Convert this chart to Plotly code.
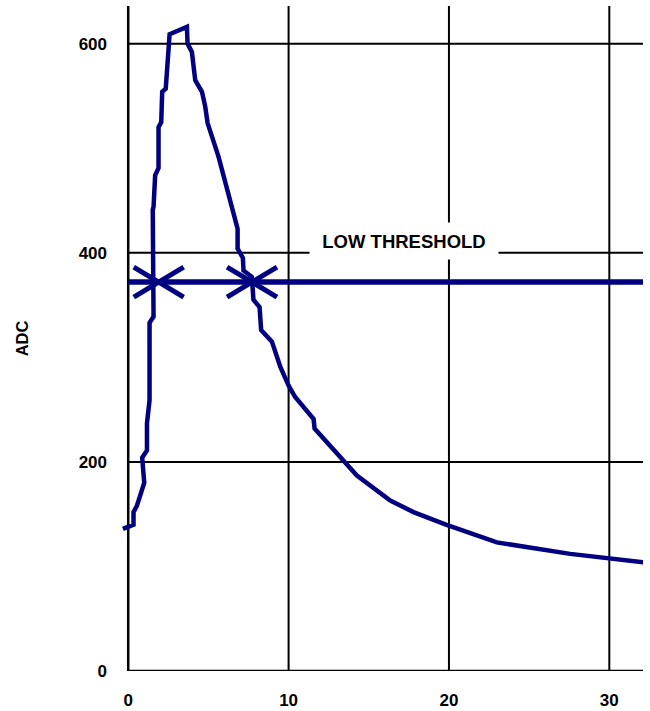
import plotly.graph_objects as go

# ---- data ----
time_ns = [-0.33, 0.33, 0.33, 0.54, 0.75, 1.0, 0.87, 1.17, 1.17, 1.33, 1.33, 1.58, 1.53, 1.58,
           1.68, 1.89, 1.89, 2.06, 2.12, 2.34, 2.58, 3.66, 3.70, 3.97, 4.18, 4.6, 4.8, 4.95,
           5.63, 6.82, 6.82, 7.15, 7.19, 7.71, 7.81, 8.19, 8.29, 8.96, 9.48, 10.0, 10.41,
           11.56, 11.62, 13.64, 14.26, 16.34, 17.79, 19.81, 22.99, 27.56, 29.95, 32.14]
adc = [136, 140, 152, 158, 168, 180, 204, 211, 237, 259, 333, 339, 441, 444,
       474, 481, 520, 525, 554, 557, 609, 616, 600, 592, 565, 554, 540, 524,
       492, 423, 404, 395, 383, 377, 355, 348, 326, 315, 291, 273, 262,
       241, 232, 197, 187, 163, 152, 140, 123, 112, 108, 104]

threshold = 372
crossing_x = [1.9, 7.72]
threshold_label = "LOW THRESHOLD"
label_pos = (17.17, 411)

x_ticks = [0, 10, 20, 30]
y_ticks = [0, 200, 400, 600]
y_title = "ADC"

X_RANGE = [-0.45, 32.1]
Y_RANGE = [0, 636]

NAVY = "#000080"
FONT = "Liberation Sans, Arial, sans-serif"

fig = go.Figure()

# curve
fig.add_trace(go.Scatter(x=time_ns, y=adc, mode="lines",
                         line=dict(color=NAVY, width=4.5), hoverinfo="skip",
                         showlegend=False))

# star markers at threshold crossings (two rotated line segments each)
for ang in (31, -31):
    fig.add_trace(go.Scatter(
        x=crossing_x, y=[threshold] * len(crossing_x), mode="markers",
        marker=dict(symbol="line-ew", size=41.6, angle=ang,
                    line=dict(color=NAVY, width=5)),
        hoverinfo="skip", showlegend=False))

shapes = []
grid = dict(color="black", width=2)
for yv in y_ticks[1:]:
    shapes.append(dict(type="line", xref="x", yref="y", x0=0, x1=X_RANGE[1],
                       y0=yv, y1=yv, line=grid, layer="below"))
for xv in x_ticks[1:]:
    shapes.append(dict(type="line", xref="x", yref="y", x0=xv, x1=xv,
                       y0=0, y1=Y_RANGE[1], line=grid, layer="below"))
# axis lines
shapes.append(dict(type="line", xref="x", yref="y", x0=0, x1=0, y0=0, y1=Y_RANGE[1],
                   line=dict(color="black", width=2.5), layer="below"))
shapes.append(dict(type="line", xref="x", yref="y", x0=0, x1=X_RANGE[1], y0=0, y1=0,
                   line=dict(color="black", width=2.5), layer="below"))
# threshold line
shapes.append(dict(type="line", xref="x", yref="y", x0=0, x1=X_RANGE[1],
                   y0=threshold, y1=threshold,
                   line=dict(color=NAVY, width=5.5), layer="above"))

tickfont = dict(family=FONT, size=17, color="black", weight="bold")

fig.update_layout(
    width=650, height=711,
    margin=dict(l=120.8, r=7.3, t=5.7, b=40.3, autoexpand=False),
    paper_bgcolor="white", plot_bgcolor="white",
    shapes=shapes,
    xaxis=dict(range=X_RANGE, tickvals=x_ticks, showgrid=False, zeroline=False,
               showline=False, ticks="", tickfont=tickfont, ticklabelstandoff=17,
               fixedrange=True, automargin=False),
    yaxis=dict(range=Y_RANGE, tickvals=y_ticks, showgrid=False, zeroline=False,
               showline=False, ticks="", tickfont=tickfont, ticklabelstandoff=13,
               fixedrange=True, automargin=False),
    annotations=[
        dict(x=label_pos[0], y=label_pos[1], xref="x", yref="y", text=threshold_label,
             showarrow=False, bgcolor="white", width=188, height=36, borderpad=0,
             font=dict(family=FONT, size=18.5, color="black", weight="bold")),
        dict(x=-0.19, y=0.5, xref="paper", yref="paper", text=y_title, textangle=-90,
             showarrow=False, xanchor="center", yanchor="middle",
             font=dict(family=FONT, size=16.5, color="black", weight="bold")),
    ],
)

fig.write_html("out.html", config={"displayModeBar": False},
               post_script="document.body.style.margin='0';document.body.style.overflow='hidden';")
